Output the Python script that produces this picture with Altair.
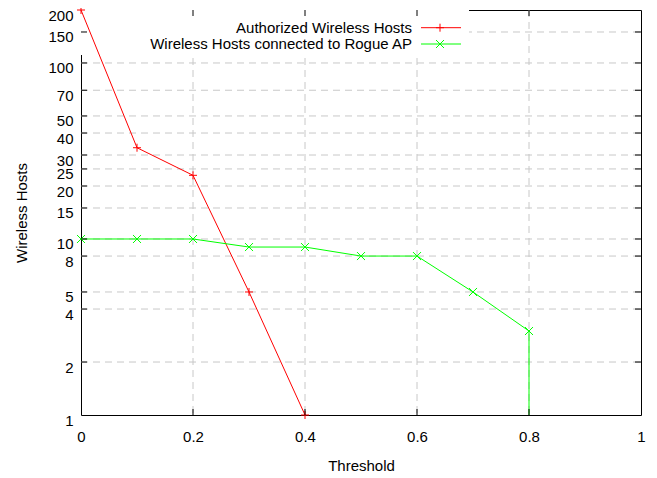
import altair as alt
import pandas as pd

# ---- data ----
red_name = "Authorized Wireless Hosts"
red_x = [0.0, 0.1, 0.2, 0.3, 0.4]
red_y = [200, 33, 23, 5, 1]

green_name = "Wireless Hosts connected to Rogue AP"
green_x = [0.0, 0.1, 0.2, 0.3, 0.4, 0.5, 0.6, 0.7, 0.8]
green_y = [10, 10, 10, 9, 9, 8, 8, 5, 3]
green_drop_x = [0.8, 0.8]
green_drop_y = [3, 1]

x_ticks = [0, 0.2, 0.4, 0.6, 0.8, 1]
y_ticks = [1, 2, 4, 5, 8, 10, 15, 20, 25, 30, 40, 50, 70, 100, 150, 200]

W, H = 560, 405
FONT = "Liberation Sans"
FS = 15
RED = "#ff0000"
GREEN = "#00ff00"
PLUS = "M-1,0L1,0M0,-1L0,1"
CROSS = "M-1,-1L1,1M-1,1L1,-1"

xs = alt.Scale(domain=[0, 1], nice=False, zero=False)
ys = alt.Scale(type="log", domain=[1, 200], nice=False)

red_df = pd.DataFrame({"x": red_x, "y": red_y})
green_df = pd.DataFrame({"x": green_x, "y": green_y})
drop_df = pd.DataFrame({"x": green_drop_x, "y": green_drop_y})
xt_df = pd.DataFrame({"v": x_ticks})
yt_df = pd.DataFrame({"v": y_ticks})
one = pd.DataFrame({"a": [0]})

grid_dash = [7, 5]
grid_color = "#c8c8c8"

xaxis = alt.Axis(values=x_ticks, format="~g", ticks=False, domain=False, grid=False,
                 labelFont=FONT, labelFontSize=FS, labelColor="black", labelPadding=14,
                 labelFlush=False, labelOverlap=False,
                 title="Threshold", titleFont=FONT, titleFontSize=FS,
                 titleFontWeight="normal", titleColor="black", titlePadding=14)
yaxis = alt.Axis(values=y_ticks, format="~g", ticks=False, domain=False, grid=False,
                 labelFont=FONT, labelFontSize=FS, labelColor="black", labelPadding=8,
                 labelFlush=False, labelOverlap=False, labelOffset=5,
                 title="Wireless Hosts", titleFont=FONT, titleFontSize=FS,
                 titleFontWeight="normal", titleColor="black", titlePadding=18)


def X(f):
    return alt.X(f, scale=xs, axis=xaxis)


def Y(f):
    return alt.Y(f, scale=ys, axis=yaxis)


# grid
vgrid = alt.Chart(xt_df[(xt_df.v > 0) & (xt_df.v < 1)]).mark_rule(
    color=grid_color, strokeDash=grid_dash, strokeWidth=1
).encode(x=X("v:Q"), y=alt.value(0), y2=alt.value(H))

hgrid = alt.Chart(yt_df[(yt_df.v > 1) & (yt_df.v < 200)]).mark_rule(
    color=grid_color, strokeDash=grid_dash, strokeWidth=1
).encode(y=Y("v:Q"), x=alt.value(0), x2=alt.value(W))

# key area cleared of grid
keybg = alt.Chart(one).mark_rect(fill="white").encode(
    x=alt.value(0), x2=alt.value(388), y=alt.value(0), y2=alt.value(45))

# data
red_line = alt.Chart(red_df).mark_line(color=RED, strokeWidth=1).encode(
    x=X("x:Q"), y=Y("y:Q"))
red_pts = alt.Chart(red_df).mark_point(shape=PLUS, size=64, color=RED, filled=False,
                                       strokeWidth=1, opacity=1).encode(
    x=X("x:Q"), y=Y("y:Q"))
green_line = alt.Chart(green_df).mark_line(color=GREEN, strokeWidth=1).encode(
    x=X("x:Q"), y=Y("y:Q"))
green_drop = alt.Chart(drop_df).mark_line(color=GREEN, strokeWidth=1).encode(
    x=X("x:Q"), y=Y("y:Q"))
green_pts = alt.Chart(green_df).mark_point(shape=CROSS, size=64, color=GREEN, filled=False,
                                           strokeWidth=1, opacity=1).encode(
    x=X("x:Q"), y=Y("y:Q"))

# inward ticks (mirrored)
TL = 6
yt_in = yt_df[(yt_df.v > 1) & (yt_df.v < 200)]
ytick_l = alt.Chart(yt_in).mark_rule(color="black").encode(
    y=Y("v:Q"), x=alt.value(0), x2=alt.value(TL))
ytick_r = alt.Chart(yt_in).mark_rule(color="black").encode(
    y=Y("v:Q"), x=alt.value(W - TL), x2=alt.value(W))
xt_in = xt_df[(xt_df.v > 0) & (xt_df.v < 1)]
xtick_b = alt.Chart(xt_in).mark_rule(color="black").encode(
    x=X("v:Q"), y=alt.value(H), y2=alt.value(H - TL))
xtick_t = alt.Chart(xt_in).mark_rule(color="black").encode(
    x=X("v:Q"), y=alt.value(0), y2=alt.value(TL))

# key
ky1, ky2 = 17.7, 34.0
key_t1 = alt.Chart(one).mark_text(text=red_name, align="right", baseline="middle",
                                  font=FONT, fontSize=FS, color="black").encode(
    x=alt.value(331), y=alt.value(ky1))
key_t2 = alt.Chart(one).mark_text(text=green_name, align="right", baseline="middle",
                                  font=FONT, fontSize=FS, color="black").encode(
    x=alt.value(331), y=alt.value(ky2))
key_l1 = alt.Chart(one).mark_rule(color=RED, strokeWidth=1).encode(
    x=alt.value(340), x2=alt.value(380), y=alt.value(ky1))
key_l2 = alt.Chart(one).mark_rule(color=GREEN, strokeWidth=1).encode(
    x=alt.value(340), x2=alt.value(380), y=alt.value(ky2))
key_p1 = alt.Chart(one).mark_point(shape=PLUS, size=64, color=RED, filled=False,
                                   strokeWidth=1, opacity=1).encode(
    x=alt.value(359), y=alt.value(ky1))
key_p2 = alt.Chart(one).mark_point(shape=CROSS, size=64, color=GREEN, filled=False,
                                   strokeWidth=1, opacity=1).encode(
    x=alt.value(359), y=alt.value(ky2))

chart = alt.layer(
    vgrid, hgrid, keybg,
    red_line, green_line, green_drop, red_pts, green_pts,
    ytick_l, ytick_r, xtick_b, xtick_t,
    key_t1, key_t2, key_l1, key_l2, key_p1, key_p2,
).properties(
    width=W, height=H,
    autosize=alt.AutoSizeParams(type="none"),
    padding={"left": 73, "top": 2, "right": 8, "bottom": 60},
    background="white",
).configure_view(stroke="black", strokeWidth=1)

chart.save("out.html", embed_options={"renderer": "svg", "actions": False})
